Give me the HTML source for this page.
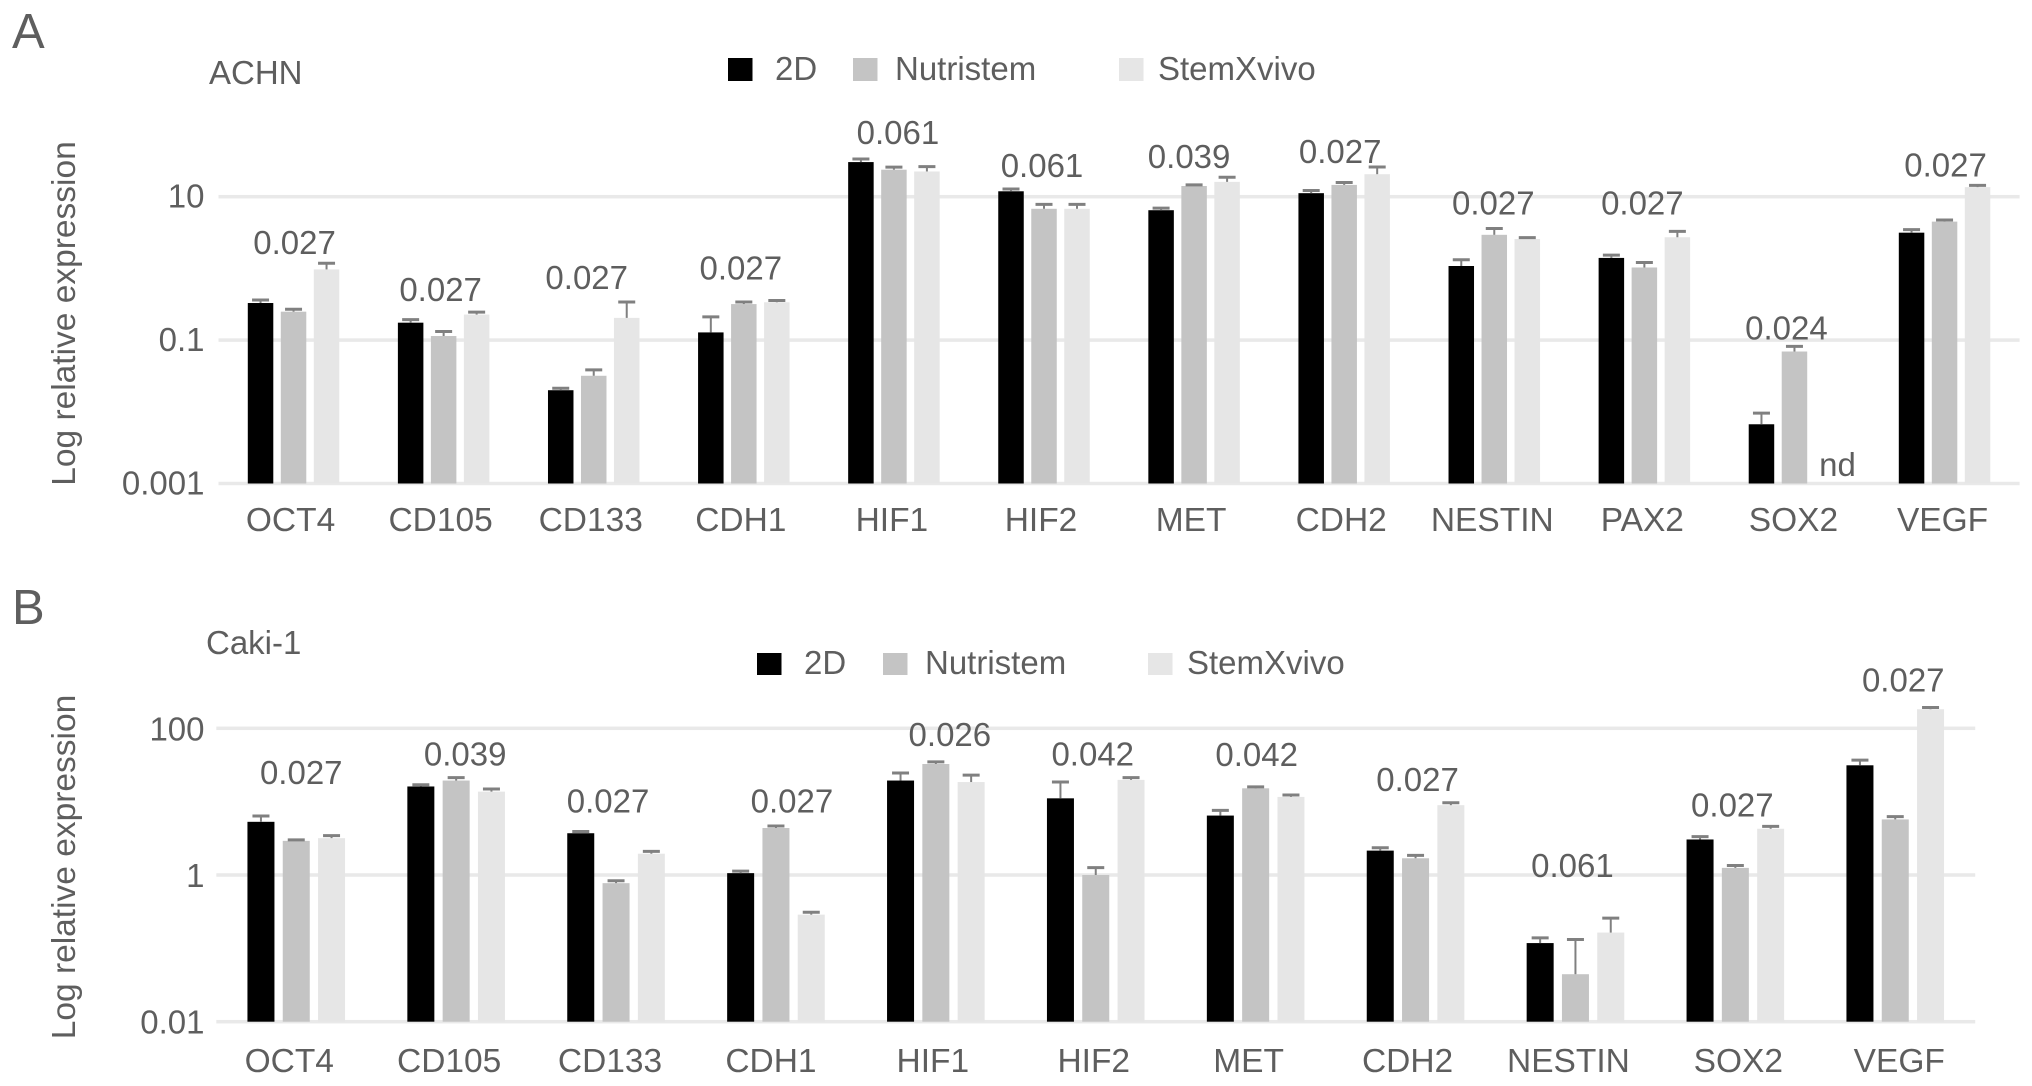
<!DOCTYPE html>
<html lang="en">
<head>
<meta charset="utf-8">
<title>Log relative expression in ACHN and Caki-1</title>
<style>
html,body{margin:0;padding:0;background:#fff;}
svg{display:block;}
text{font-family:"Liberation Sans",sans-serif;fill:#5e5e5e;}
</style>
</head>
<body>
<svg id="chart" xmlns="http://www.w3.org/2000/svg" width="2032" height="1086" viewBox="0 0 2032 1086"></svg>
<script>
// ---------- Panel A (ACHN) data ----------
const achnCategories = ["OCT4","CD105","CD133","CDH1","HIF1","HIF2","MET","CDH2","NESTIN","PAX2","SOX2","VEGF"];
const achn2D          = [0.329,0.175,0.0200,0.128,30.4,11.9,6.48,11.2,1.08,1.40,0.0067,3.15];
const achn2DErr       = [0.363,0.193,0.0213,0.211,33.6,12.8,6.93,12.2,1.32,1.53,0.00957,3.48];
const achnNutristem   = [0.249,0.114,0.0318,0.318,23.8,6.78,14.1,14.6,2.94,1.03,0.0693,4.49];
const achnNutristemErr= [0.269,0.132,0.0385,0.340,25.8,7.83,14.6,15.8,3.60,1.21,0.0818,4.74];
const achnStemXvivo   = [0.968,0.227,0.204,0.337,22.5,6.78,16.1,20.6,2.57,2.72,null,13.6];
const achnStemXvivoErr= [1.18,0.246,0.340,0.356,26.3,7.83,18.7,26.0,2.69,3.29,null,14.4];
const achnPValues     = ["0.027","0.027","0.027","0.027","0.061","0.061","0.039","0.027","0.027","0.027","0.024","0.027"];
const achnTickValues  = [10,0.1,0.001];
const achnTickLabels  = ["10","0.1","0.001"];

// ---------- Panel B (Caki-1) data ----------
const cakiCategories = ["OCT4","CD105","CD133","CDH1","HIF1","HIF2","MET","CDH2","NESTIN","SOX2","VEGF"];
const caki2D          = [5.31,16.1,3.71,1.06,19.4,11.1,6.46,2.15,0.118,3.05,31.3];
const caki2DErr       = [6.38,17.0,3.92,1.13,24.6,18.5,7.60,2.35,0.139,3.33,36.8];
const cakiNutristem   = [2.92,19.4,0.774,4.37,32.6,1.00,15.2,1.69,0.0444,1.25,5.73];
const cakiNutristemErr= [3.01,21.3,0.836,4.66,34.8,1.26,15.9,1.85,0.132,1.35,6.25];
const cakiStemXvivo   = [3.18,13.7,1.95,0.288,18.5,19.8,11.6,8.95,0.164,4.27,182];
const cakiStemXvivoErr= [3.44,14.9,2.10,0.310,23.0,21.3,12.3,9.66,0.258,4.61,192];
const cakiPValues     = ["0.027","0.039","0.027","0.027","0.026","0.042","0.042","0.027","0.061","0.027","0.027"];
const cakiTickValues  = [100,1,0.01];
const cakiTickLabels  = ["100","1","0.01"];

// ---------- Legend ----------
const seriesNames = ["2D","Nutristem","StemXvivo"];

// ---------- Layout (no data values) ----------
const seriesColors = ["#000000","#c4c4c4","#e6e6e6"];
const NS = "http://www.w3.org/2000/svg";
const svg = document.getElementById("chart");

function el(tag, attrs, parent){
  const node = document.createElementNS(NS, tag);
  for (const key in attrs) node.setAttribute(key, attrs[key]);
  (parent || svg).appendChild(node);
  return node;
}
function label(parent, x, y, str, size, anchor){
  const t = el("text", {x:x, y:y, "font-size":size, "text-anchor":anchor}, parent);
  t.textContent = str;
  return t;
}

function drawPanel(p){
  const g = el("g", {});
  
  

  const band = (p.x1 - p.x0) / p.categories.length;
  const xCenter = i => p.x0 + band * (i + 0.5);
  const yScale = v => p.yTop + (Math.log10(p.vTop) - Math.log10(v)) * p.decade;
  const baseline = yScale(p.vBottom);

  // Panel letter and cell line name
  const letter = label(g, p.letterX, p.letterY, p.letter, 49, "start");
  
  
  const cell = label(g, p.cellX, p.cellY, p.cell, 33, "start");
  
  

  // Y axis title
  const yt = label(g, 0, 0, "Log relative expression", 33.5, "middle");
  yt.setAttribute("transform", "translate(75," + p.titleY + ") rotate(-90)");
  
  

  // Grid and ticks
  p.tickValues.forEach((v, i) => {
    const line = el("rect", {x:p.x0, y:yScale(v)-1.75, width:p.x1-p.x0, height:3.5, fill:"#e9e9e9"}, g);
    
    
    const tick = label(g, 204.5, yScale(v) + p.tickDy, p.tickLabels[i], 33, "end");
    
    
  });

  // Bars with error bars
  const seriesVals = [p.s2D, p.sNutri, p.sStem];
  const seriesErrs = [p.e2D, p.eNutri, p.eStem];
  const highest = p.categories.map(() => Infinity);
  p.categories.forEach((cat, i) => {
    seriesVals.forEach((vals, s) => {
      const v = vals[i];
      if (v === null) return;
      const cx = xCenter(i) + (s - 1) * p.pitch;
      const top = yScale(v);
      const bar = el("rect", {x:cx-p.barW/2, y:top, width:p.barW, height:baseline-top, fill:seriesColors[s]}, g);
      
      
      const errTop = yScale(seriesErrs[s][i]);
      highest[i] = Math.min(highest[i], errTop);
      const stem = el("line", {x1:cx, x2:cx, y1:top, y2:errTop, stroke:"#808080", "stroke-width":2}, g);
      
      
      const cap = el("line", {x1:cx-8.5, x2:cx+8.5, y1:errTop, y2:errTop, stroke:"#808080", "stroke-width":3}, g);
      
      
    });
  });

  // Category labels and p-values
  p.categories.forEach((cat, i) => {
    const xl = label(g, xCenter(i) + p.catNudge[i], p.catY, cat, 33.5, "middle");
    
    
    const pv = label(g, xCenter(i) + p.pNudgeX[i], highest[i] - p.pGap[i], p.pValues[i], 33, "middle");
    
    
  });

  // Legend
  p.legendSwatchX.forEach((sx, i) => {
    const sw = el("rect", {x:sx, y:p.legendY, width:24.5, height:p.legendH, fill:seriesColors[i]}, g);
    
    
    const lt = label(g, p.legendTextX[i], p.legendBase, seriesNames[i], 33, "start");
    
    
  });
  return {xCenter, yScale, baseline, g};
}

const panelA = drawPanel({
  key:"achn", letter:"A", letterX:12, letterY:48, cell:"ACHN", cellX:209, cellY:84,
  categories:achnCategories, s2D:achn2D, e2D:achn2DErr, sNutri:achnNutristem, eNutri:achnNutristemErr,
  sStem:achnStemXvivo, eStem:achnStemXvivoErr, pValues:achnPValues,
  tickValues:achnTickValues, tickLabels:achnTickLabels,
  x0:218.5, x1:2019.6, yTop:196.7, vTop:10, vBottom:0.001, decade:71.7, tickDy:11,
  barW:25.5, pitch:33, titleY:313.5, catY:531,
  catNudge:[-3,-3,-3,-3,-2,-3,-3,-3,-2,-2,-1,-2],
  pNudgeX:[1,-3,-7,-3,4,-2,-5,-4,-1,-2,-8,1],
  pGap:[9,11,13,21,15,12,9,4,14,17,7,9],
  legendSwatchX:[728,853,1119], legendTextX:[775,895,1158], legendY:58, legendH:23, legendBase:80
});

const ndLabel = label(panelA.g, panelA.xCenter(10) + 43, 476, "nd", 33, "middle");



drawPanel({
  key:"caki", letter:"B", letterX:12, letterY:624, cell:"Caki-1", cellX:206, cellY:654,
  categories:cakiCategories, s2D:caki2D, e2D:caki2DErr, sNutri:cakiNutristem, eNutri:cakiNutristemErr,
  sStem:cakiStemXvivo, eStem:cakiStemXvivoErr, pValues:cakiPValues,
  tickValues:cakiTickValues, tickLabels:cakiTickLabels,
  x0:216.3, x1:1975.2, yTop:728.3, vTop:100, vBottom:0.01, decade:73.35, tickDy:12,
  barW:27, pitch:35.3, titleY:867, catY:1072,
  catNudge:[-7,-7,-6,-5,-3,-2,-7,-8,-7,3,4],
  pNudgeX:[5,9,-8,16,14,-3,1,2,-3,-3,8],
  pGap:[32,12,19,13.5,16,12,21,12,41,10,16],
  legendSwatchX:[757,883,1148], legendTextX:[804,925,1187], legendY:653, legendH:22, legendBase:674
});
</script>
</body>
</html>
